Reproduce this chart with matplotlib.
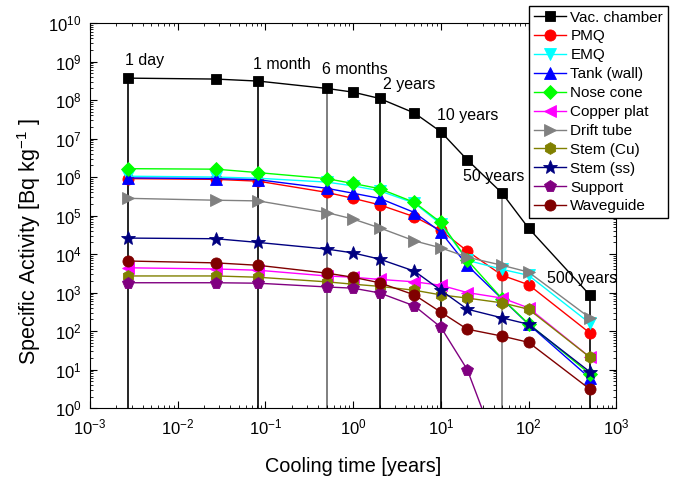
import matplotlib
matplotlib.use('Agg')
import matplotlib.pyplot as plt
import numpy as np

plt.rcParams['font.family'] = ['Liberation Sans', 'DejaVu Sans']
plt.rcParams['mathtext.default'] = 'regular'

# cooling times in years
times = [1 / 365, 10 / 365, 1 / 12, 0.5, 1, 2, 5, 10, 20, 50, 100, 500]

vac_chamber = [3.7e8, 3.5e8, 3.1e8, 2.0e8, 1.6e8, 1.1e8, 4.6e7, 1.5e7, 2.8e6, 3.8e5, 4.7e4, 860]
pmq = [9.1e5, 8.7e5, 7.8e5, 4.0e5, 2.8e5, 1.9e5, 9.3e4, 4.1e4, 1.2e4, 2.8e3, 1.6e3, 89]
emq = [1.05e6, 1.0e6, 9.3e5, 7.4e5, 5.9e5, 4.4e5, 2.1e5, 6.0e4, 6.9e3, 4.0e3, 2.8e3, 160]
tank = [9.5e5, 9.1e5, 8.5e5, 5.1e5, 3.8e5, 2.8e5, 1.2e5, 3.7e4, 5.1e3, 680, 150, 6.0]
nose_cone = [1.65e6, 1.6e6, 1.3e6, 9.1e5, 6.8e5, 5.0e5, 2.2e5, 6.6e4, 7.0e3, 690, 155, 7.7]
copper_plat = [4.4e3, 4.1e3, 3.8e3, 2.7e3, 2.5e3, 2.2e3, 1.9e3, 1.55e3, 1.0e3, 720, 400, 21]
drift_tube = [2.8e5, 2.5e5, 2.4e5, 1.2e5, 8.1e4, 4.8e4, 2.2e4, 1.45e4, 8.3e3, 5.1e3, 3.4e3, 220]
stem_cu = [2.7e3, 2.7e3, 2.5e3, 1.9e3, 1.65e3, 1.45e3, 1.15e3, 870, 720, 540, 370, 21]
stem_ss = [2.6e4, 2.5e4, 2.0e4, 1.35e4, 1.07e4, 7.4e3, 3.6e3, 1.15e3, 370, 220, 150, 8.7]
support = [1.8e3, 1.8e3, 1.75e3, 1.4e3, 1.3e3, 980, 450, 126, 10, 0.04, 0.005, 1e-4]
waveguide = [6.6e3, 5.9e3, 5.1e3, 3.2e3, 2.5e3, 1.8e3, 870, 310, 112, 74, 51, 3.1]

names = ['Vac. chamber', 'PMQ', 'EMQ', 'Tank (wall)', 'Nose cone', 'Copper plat',
         'Drift tube', 'Stem (Cu)', 'Stem (ss)', 'Support', 'Waveguide']
series = [vac_chamber, pmq, emq, tank, nose_cone, copper_plat,
          drift_tube, stem_cu, stem_ss, support, waveguide]
colors = ['black', 'red', 'cyan', 'blue', '#00ff00', 'magenta',
          'gray', '#808000', '#000080', '#800080', '#800000']
markers = ['s', 'o', 'v', '^', 'D', '<', '>', 'h', '*', 'p', 'o']
msizes = [6.5, 8, 8, 8, 7, 8, 8, 8.5, 10, 8.5, 8]

# marked cooling times
mark_times = [1 / 365, 1 / 12, 0.5, 2, 10, 50, 500]
mark_tops = [3.7e8, 3.1e8, 2.0e8, 1.1e8, 1.5e7, 3.8e5, 860]
mark_colors = ['black', 'black', 'dimgray', 'black', 'black', 'gray', 'black']
mark_labels = ['1 day', '1 month', '6 months', '2 years', '10 years', '50 years', '500 years']
label_x = [0.0025, 0.072, 0.44, 2.19, 9.06, 17.9, 162]
label_y = [6.8e8, 5.3e8, 4.0e8, 1.6e8, 2.5e7, 6.6e5, 1.5e3]

fig = plt.figure(figsize=(6.81, 4.79), dpi=100)
ax = fig.add_axes([0.132, 0.148, 0.773, 0.804])

ax.vlines(mark_times, 1, mark_tops, colors=mark_colors, lw=1.2, zorder=1)

for name, vals, c, m, ms in zip(names, series, colors, markers, msizes):
    ax.plot(times, vals, color=c, marker=m, markersize=ms, lw=1, label=name,
            markeredgecolor=c, markeredgewidth=0.6, zorder=3)

for t, x, y in zip(mark_labels, label_x, label_y):
    ax.text(x, y, t, fontsize=11.5, ha='left', va='bottom')

ax.set_xscale('log')
ax.set_yscale('log')
ax.set_xlim(1e-3, 1e3)
ax.set_ylim(1, 1e10)
ax.set_yticks([10.0 ** i for i in range(11)])
ax.set_xticks([10.0 ** i for i in range(-3, 4)])
ax.yaxis.set_minor_locator(matplotlib.ticker.LogLocator(base=10, subs=np.arange(2, 10), numticks=20))
ax.xaxis.set_minor_locator(matplotlib.ticker.LogLocator(base=10, subs=np.arange(2, 10), numticks=20))
ax.yaxis.set_minor_formatter(matplotlib.ticker.NullFormatter())
ax.xaxis.set_minor_formatter(matplotlib.ticker.NullFormatter())
ax.tick_params(which='both', direction='in', top=True, right=True, labelsize=12)
ax.tick_params(which='major', length=5)
ax.tick_params(which='minor', length=2.5)
ax.tick_params(axis='x', pad=7)
ax.tick_params(axis='y', pad=6)
ax.set_xlabel('Cooling time [years]', fontsize=14.3)
ax.xaxis.set_label_coords(0.5, -0.127)
ax.set_ylabel('Specific Activity [Bq kg$^{-1}$ ]', fontsize=15.5)
ax.yaxis.set_label_coords(-0.09, 0.431)

leg = ax.legend(loc='upper left', bbox_to_anchor=(529 / 681, 1 - 6 / 479),
                bbox_transform=fig.transFigure, fontsize=11, frameon=True, fancybox=False,
                edgecolor='black', framealpha=1, labelspacing=0.32, handlelength=2.1,
                handletextpad=0.3, borderpad=0.3, borderaxespad=0)
leg.get_frame().set_linewidth(1)

fig.savefig('out.png', dpi=100)
